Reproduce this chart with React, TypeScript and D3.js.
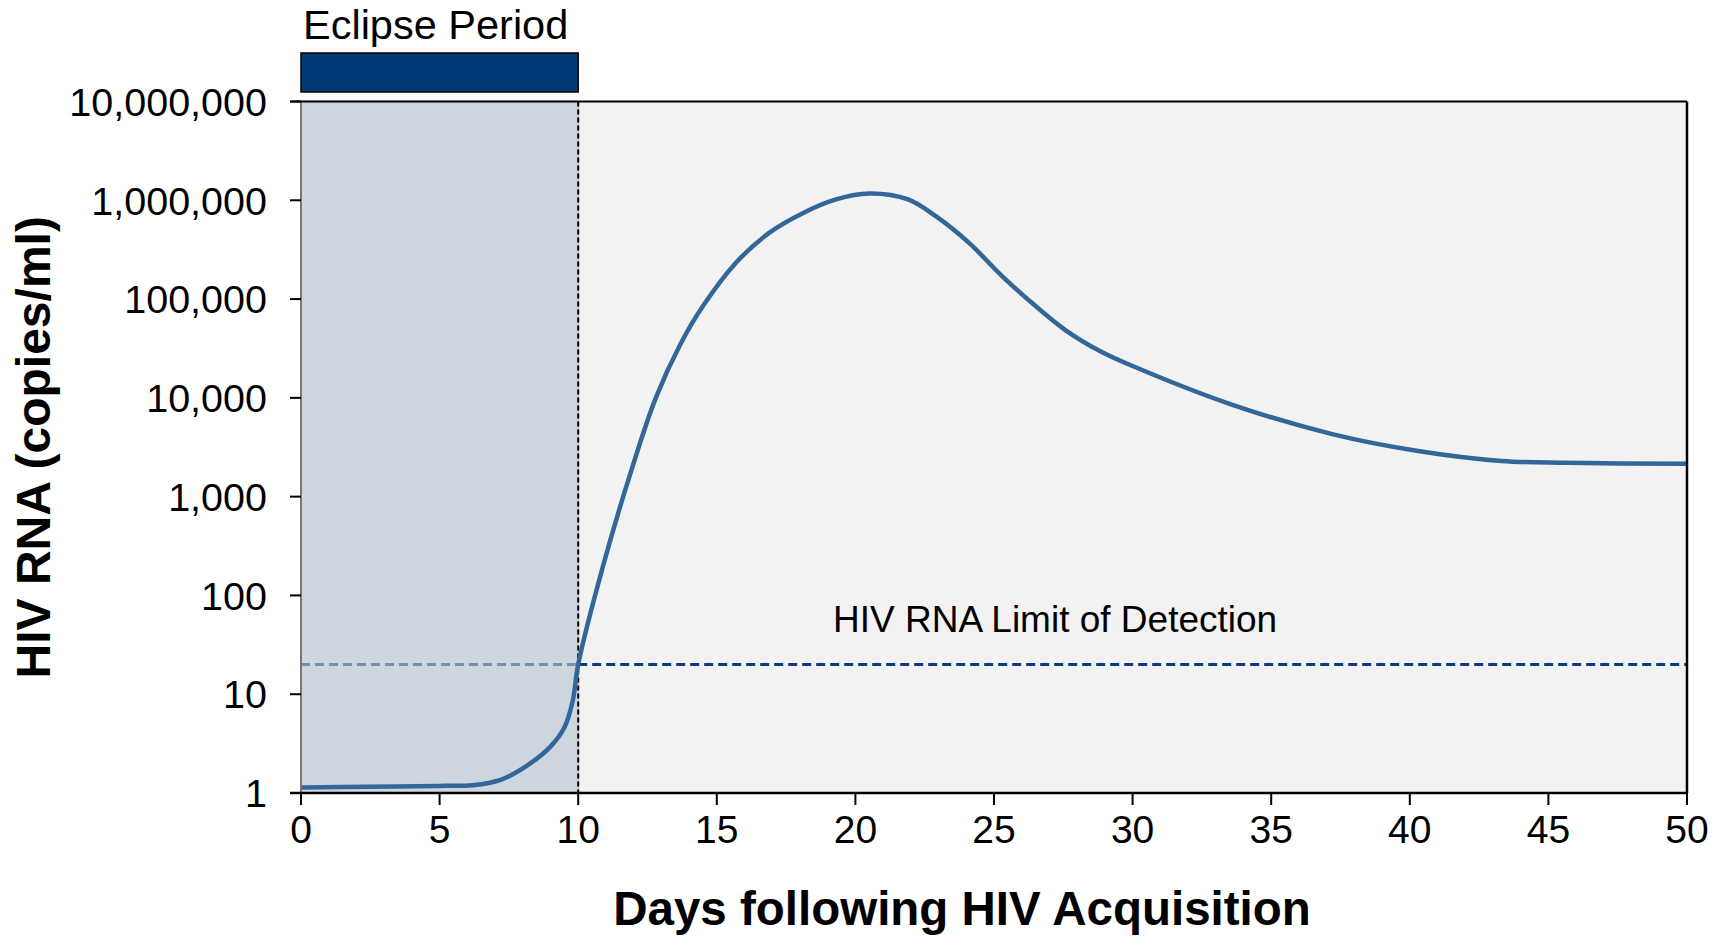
import React from "react";
import * as d3 from "d3";

// viral load curve
const days = [0, 2.5, 5, 6.2, 7.2, 8.1, 9.0, 9.5, 9.8, 10, 10.9, 11.9, 12.8, 13.7, 14.5, 15.7, 16.9, 18.1, 19.3, 20.5, 21.9, 22.9, 24.1, 25.3, 26.5, 27.6, 28.8, 30.0, 33.6, 37.2, 40.3, 43.3, 45.7, 50];
const copies = [1.14, 1.16, 1.18, 1.2, 1.36, 1.85, 2.95, 4.6, 8.5, 20, 200, 1780, 10000, 35500, 85000, 235000, 470000, 740000, 1020000, 1170000, 1020000, 690000, 370000, 170000, 85000, 48000, 30000, 21000, 8500, 4300, 2900, 2300, 2200, 2150];

const xTicks = [0, 5, 10, 15, 20, 25, 30, 35, 40, 45, 50];
const yTicks = [1, 10, 100, 1000, 10000, 100000, 1000000, 10000000];

const eclipseEnd = 10;
const detectionLimit = 20;

const font = "'Liberation Sans', Arial, sans-serif";

export default function App() {
  const width = 1721, height = 937;
  const margin = { top: 101.5, right: 34, bottom: 144, left: 301 };
  const left = margin.left, right = width - margin.right;
  const top = margin.top, bottom = height - margin.bottom;

  const x = d3.scaleLinear().domain([0, 50]).range([left, right]);
  const y = d3.scaleLog().domain([1, 1e7]).range([bottom, top]);
  const fmt = d3.format(",");

  const points = days.map((d, i) => [d, copies[i]] as [number, number]);
  const line = d3.line<[number, number]>()
    .x(d => x(d[0]))
    .y(d => y(d[1]))
    .curve(d3.curveCatmullRom.alpha(0.5));

  const yLim = y(detectionLimit);

  return (
    <svg width={width} height={height} style={{ position: "absolute", left: 0, top: 0, background: "#fff" }} fontFamily={font}>
      {/* eclipse period bar */}
      <text x={x(0) + 2} y={39} fontSize={41.5} fill="#000">Eclipse Period</text>
      <rect x={x(0)} y={53} width={x(eclipseEnd) - x(0)} height={39} fill="#023a78" stroke="#000" strokeWidth={1.5} />

      {/* plot background */}
      <rect x={left} y={top} width={right - left} height={bottom - top} fill="#f2f2f2" />
      <rect x={x(0)} y={top} width={x(eclipseEnd) - x(0)} height={bottom - top} fill="#cdd5de" stroke="#c2c6cb" strokeWidth={2} />

      {/* limit of detection */}
      <line x1={x(0)} x2={x(eclipseEnd)} y1={yLim} y2={yLim} stroke="#7690b3" strokeWidth={3} strokeDasharray="9 5" />
      <line x1={x(eclipseEnd)} x2={right} y1={yLim} y2={yLim} stroke="#0b3c7a" strokeWidth={3} strokeDasharray="9 5" />
      <text x={833} y={632} fontSize={37} fill="#000">HIV RNA Limit of Detection</text>

      {/* end of eclipse */}
      <line x1={x(eclipseEnd)} x2={x(eclipseEnd)} y1={top} y2={bottom} stroke="#000" strokeWidth={2} strokeDasharray="5 3" />

      <path d={line(points) || ""} fill="none" stroke="#336699" strokeWidth={4.5} strokeLinejoin="round" />

      {/* frame */}
      <line x1={left} x2={left} y1={top} y2={bottom} stroke="#777" strokeWidth={2} />
      <line x1={left - 11} x2={right} y1={top} y2={top} stroke="#000" strokeWidth={2} />
      <line x1={right} x2={right} y1={top} y2={bottom} stroke="#000" strokeWidth={2.5} />
      <line x1={left - 11} x2={right} y1={bottom} y2={bottom} stroke="#000" strokeWidth={2.5} />

      {/* y axis */}
      {yTicks.map(t => (
        <g key={t}>
          <line x1={left - 11} x2={left} y1={y(t)} y2={y(t)} stroke="#000" strokeWidth={2} />
          <text x={267} y={y(t)} dy="0.36em" textAnchor="end" fontSize={39.5} fill="#000">{fmt(t)}</text>
        </g>
      ))}

      {/* x axis */}
      {xTicks.map(t => (
        <g key={t}>
          <line x1={x(t)} x2={x(t)} y1={bottom} y2={bottom + 12} stroke="#000" strokeWidth={2} />
          <text x={x(t)} y={843} textAnchor="middle" fontSize={39} fill="#000">{t}</text>
        </g>
      ))}

      <text x={962} y={925} textAnchor="middle" fontSize={47.5} fontWeight="bold" fill="#000">Days following HIV Acquisition</text>
      <text transform={`translate(50,${(top + bottom) / 2}) rotate(-90)`} textAnchor="middle" fontSize={48} fontWeight="bold" fill="#000">HIV RNA (copies/ml)</text>
    </svg>
  );
}
